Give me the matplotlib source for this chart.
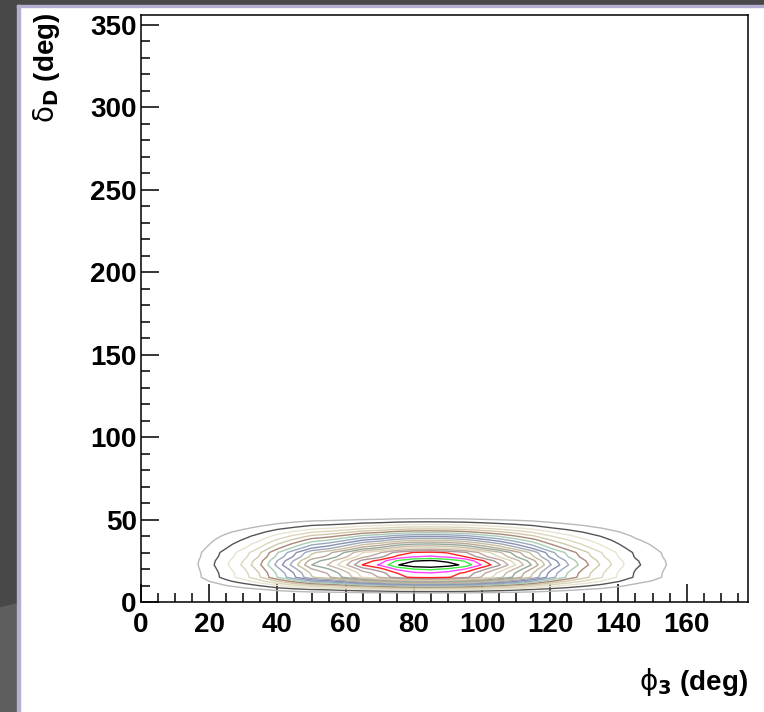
import matplotlib.pyplot as plt
import numpy as np
from matplotlib.patches import Rectangle, Polygon
from matplotlib.ticker import MultipleLocator

# profile of the distribution along phi3 (deg)
x_nodes = np.arange(0, 181, 5)
x_profile = [0, 0, 0, 0.03, 0.075, 0.13, 0.19, 0.27, 0.38, 0.48, 0.59, 0.64, 0.72,
             0.82, 0.87, 0.95, 0.99, 1.0, 0.98, 0.94, 0.86, 0.78, 0.68, 0.58, 0.46,
             0.37, 0.29, 0.22, 0.155, 0.1, 0.07, 0.04, 0.015, 0, 0, 0, 0]

# profile along delta_D (deg)
y_nodes = np.arange(0, 61, 2.5)
y_profile = [0, 0, 0.02, 0.15, 0.35, 0.6, 0.84, 0.86, 0.92, 1.0, 0.96, 0.87, 0.83,
             0.7, 0.6, 0.5, 0.4, 0.3, 0.2, 0.12, 0.055, 0.012, 0, 0, 0]

n_levels = 21
level_colors = ["#b8b8b8", "#555555", "#e8e4d0", "#ddd6bc", "#d2c8a8", "#a88878",
                "#a8ccb4", "#98a8c0", "#8890b0", "#a0a8b8", "#c8c0a0", "#b8a898",
                "#93a898", "#c8b8a8", "#e0d8b8", "#c0a8a0", "#a89898",
                "#ff2020", "#ff40ff", "#40ee40", "#000000"]

x_ticks = [0, 20, 40, 60, 80, 100, 120, 140, 160]
y_ticks = [0, 50, 100, 150, 200, 250, 300, 350]

W, H = 764, 712
fig = plt.figure(figsize=(W / 100, H / 100), dpi=100)
fig.patch.set_facecolor("white")

# dark frame around the pad
fig.patches.append(Rectangle((0, 0), 17 / W, 1, transform=fig.transFigure,
                             color="#484848", zorder=0))
fig.patches.append(Rectangle((0, 1 - 5 / H), 1, 5 / H, transform=fig.transFigure,
                             color="#484848", zorder=0))
fig.patches.append(Polygon([(0, 0), (17 / W, 0), (17 / W, 1 - 604 / H), (0, 1 - 608 / H)],
                           closed=True, transform=fig.transFigure, color="#5e5e5e", zorder=0))
fig.patches.append(Rectangle((17 / W, 0), 3 / W, 1 - 5 / H, transform=fig.transFigure,
                             color="#b4aed0", zorder=1))
fig.patches.append(Rectangle((17 / W, 1 - 7 / H), 1, 2 / H, transform=fig.transFigure,
                             color="#b4aed0", zorder=1))

ax = fig.add_axes([141 / W, 1 - 602 / H, (748 - 141) / W, (602 - 15) / H])
z = np.outer(y_profile, x_profile)
levels = np.arange(1, n_levels + 1) / (n_levels + 1)
ax.contour(x_nodes, y_nodes, z, levels=levels, colors=level_colors, linewidths=1.0)

ax.set_xlim(0, 178)
ax.set_ylim(0, 356)
ax.set_xticks(x_ticks)
ax.set_yticks(y_ticks)
ax.xaxis.set_minor_locator(MultipleLocator(5))
ax.yaxis.set_minor_locator(MultipleLocator(10))
ax.tick_params(which="both", direction="in", top=False, right=False, width=1.1,
               color="black")
ax.tick_params(which="major", length=13)
ax.tick_params(which="minor", length=6.5)
ax.tick_params(axis="x", pad=7)
ax.tick_params(axis="y", pad=3)
for lab in ax.get_xticklabels() + ax.get_yticklabels():
    lab.set_fontfamily("Liberation Sans")
    lab.set_fontweight("bold")
    lab.set_fontsize(20)
for sp in ax.spines.values():
    sp.set_linewidth(1.1)

fig.text(46 / W, 1 - 13 / H, r"$\mathrm{\delta}_{\mathbf{D}}$ (deg)", rotation=90,
         ha="center", va="top", fontsize=20, fontweight="bold", family="Liberation Sans")
fig.text(748 / W, 1 - 682 / H, r"$\mathrm{\phi}_{\mathbf{3}}$ (deg)", ha="right",
         va="center", fontsize=20, fontweight="bold", family="Liberation Sans")

fig.savefig("out.png", dpi=100)
